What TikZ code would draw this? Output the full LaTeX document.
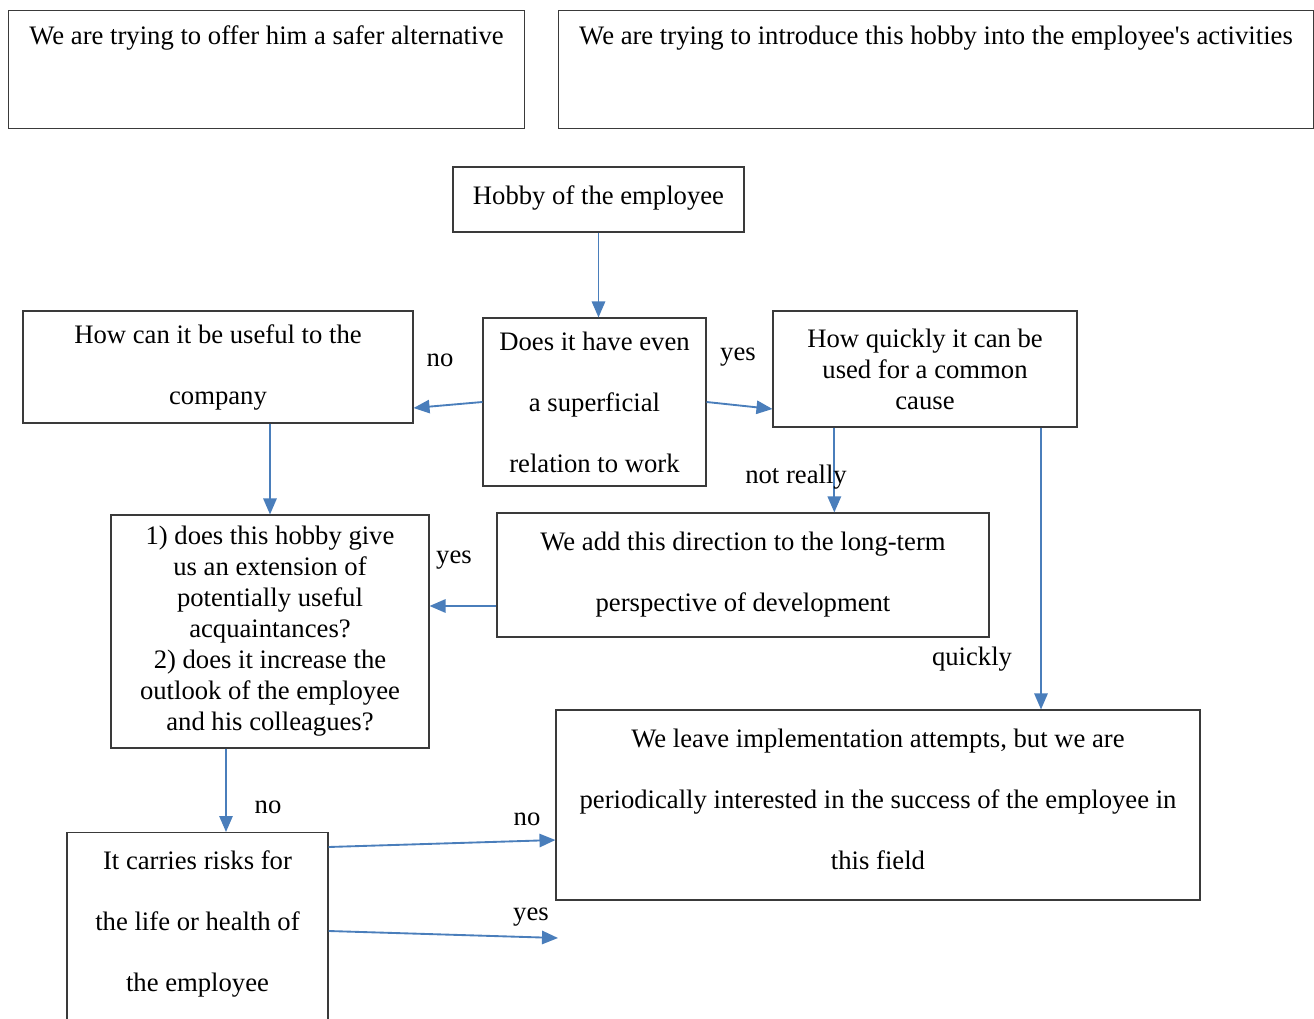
\documentclass[tikz,border=0pt]{standalone}
\usepackage{fontspec}
\setmainfont{Liberation Serif}
\usetikzlibrary{arrows.meta}
\definecolor{my_blue}{HTML}{4A7EBB}
\definecolor{my_darkgray}{HTML}{3A3A3A}

\begin{document}
\begin{tikzpicture}[
    x=0.75pt, y=-0.75pt,
    box/.style={draw=my_darkgray, line width=0.8pt, align=center, inner sep=0pt,
        font=\fontsize{20}{23.25}\selectfont},
    wide/.style={font=\fontsize{20}{45.75}\selectfont},
    toptext/.style={anchor=north west, text height=25.5pt, text depth=63pt},
    lbl/.style={font=\fontsize{20}{23.25}\selectfont, inner sep=0pt},
    arr/.style={my_blue, line width=1.4pt, -{Triangle[length=12pt, width=10pt]}}
]
\useasboundingbox (0, 0) rectangle (1314, 1019);
\clip (0, 0) rectangle (1314, 1019);

% ---------------------------------------------------------------
%  Kopfzeile: zwei Ergebnisse, oben
% ---------------------------------------------------------------
\node[box, toptext, minimum width=387pt] (offer) at (8, 10)
    {We are trying to offer him a safer alternative};
\node[box, toptext, minimum width=566.25pt] (introduce) at (558, 10)
    {We are trying to introduce this hobby into the employee\textquotesingle s activities};

% ---- Fragen und Schritte ----
\node[box, minimum width=218.25pt, minimum height=48.75pt, text depth=6pt] (hobby) at (598.5, 199.5)
    {Hobby of the employee};
\node[box, wide, minimum width=167.25pt, minimum height=126pt] (relation) at (594.5, 402)
    {Does it have even\\a superficial\\relation to work};
\node[box, wide, minimum width=292.5pt, minimum height=84pt] (useful) at (218, 367)
    {How can it be useful to the\\company};
\node[box, minimum width=228pt, minimum height=87pt] (quick) at (925, 369)
    {How quickly it can be\\used for a common\\cause};
\node[box, minimum width=238.5pt, minimum height=174.75pt] (extension) at (270, 631.5)
    {1) does this hobby give\\us an extension of\\potentially useful\\acquaintances?\\
     2) does it increase the\\outlook of the employee\\and his colleagues?};
\node[box, wide, minimum width=369pt, minimum height=93pt] (direction) at (743, 575)
    {We add this direction to the long-term\\perspective of development};
\node[box, wide, minimum width=483pt, minimum height=142.5pt, text depth=9pt] (leave) at (878, 805)
    {We leave implementation attempts, but we are\\
     periodically interested in the success of the employee in\\this field};
% reicht unten ueber den Rand hinaus
\node[box, wide, anchor=north, minimum width=195.75pt, minimum height=178pt] (risk) at (197.5, 832)
    {It carries risks for\\the life or health of\\the employee\\ \mbox{}};
\coordinate (yesend) at (558, 938);

% ---- Pfeile ----
\draw[arr] (hobby.south) -- (hobby.south |- relation.north);
\draw[arr] (relation.west) -- ([yshift=-30.75pt]useful.east);
\draw[arr] (relation.east) -- ([yshift=-30pt]quick.west);
\draw[arr] (useful.south -| extension.north) -- (extension.north);
\draw[arr] ([xshift=-68pt]quick.south) -- ([xshift=-68pt]quick.south |- direction.north);
\draw[arr] ([xshift=87pt]quick.south) -- ([xshift=87pt]quick.south |- leave.north);
\draw[arr] ([yshift=-23.25pt]direction.west) -- ([yshift=-23.25pt]direction.west -| extension.east);
\draw[arr] ([xshift=-33pt]extension.south) -- ([xshift=-33pt]extension.south |- risk.north);
\draw[arr] ([yshift=-11.25pt]risk.north east) -- ([yshift=-26.25pt]leave.west);
\draw[arr] ([yshift=-74.25pt]risk.north east) -- (yesend);

% ---- Beschriftungen ----
\node[lbl] (no1) at (440, 360) {no};
\node[lbl] (yes1) at (738, 357) {yes};
\node[lbl] (notreally) at (796, 477) {not really};
\node[lbl] (yes2) at (454, 560) {yes};
\node[lbl] (quickly) at (972, 659) {quickly};
\node[lbl] (no2) at (268, 807) {no};
\node[lbl] (no3) at (527, 819) {no};
\node[lbl] (yes3) at (531, 917) {yes};

\end{tikzpicture}
\end{document}
